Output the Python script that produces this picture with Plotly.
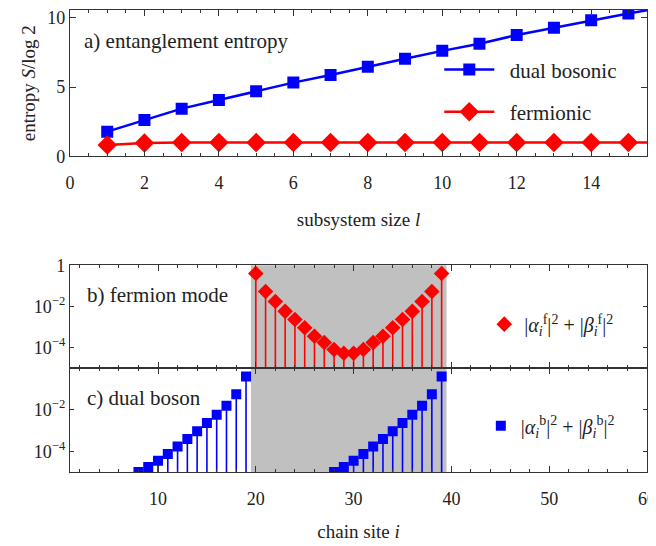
import plotly.graph_objects as go

# ---- data ----
subsystem_l = [1, 2, 3, 4, 5, 6, 7, 8, 9, 10, 11, 12, 13, 14, 15, 16]
entropy_bosonic = [1.79, 2.64, 3.45, 4.07, 4.71, 5.33, 5.88, 6.48, 7.05, 7.62, 8.14, 8.76, 9.29, 9.83, 10.31, 10.8]
entropy_fermionic = [0.83, 0.98, 1.0, 1.0, 1.0, 1.0, 1.0, 1.0, 1.0, 1.0, 1.0, 1.0, 1.0, 1.0, 1.0, 1.0]

fermion_sites = list(range(20, 40))
fermion_weight = [0.398, 0.0525, 0.0174, 0.00575, 0.00229, 0.000912, 0.000355, 0.000174, 8.1e-5, 5.25e-5,
                  5.25e-5, 8.1e-5, 0.000174, 0.000355, 0.000912, 0.00229, 0.00575, 0.0174, 0.0525, 0.398]

boson_sites = list(range(8, 20)) + list(range(28, 40))
boson_weight = [1.0e-5, 1.74e-5, 3.47e-5, 7.4e-5, 1.7e-4, 3.9e-4, 9.1e-4, 2.29e-3, 5.75e-3, 1.55e-2, 5.6e-2, 0.40,
                1.0e-5, 1.74e-5, 3.47e-5, 7.4e-5, 1.7e-4, 3.9e-4, 9.1e-4, 2.29e-3, 5.75e-3, 1.55e-2, 5.6e-2, 0.40]

shade_lo, shade_hi = 19.5, 39.5

FONT = "Liberation Serif, DejaVu Serif, serif"
AX = "#333333"
BLUE = "#0000ff"
RED = "#ff0000"
GRAY = "#c0c0c0"


def stems(xs, ys, base=1e-7):
    sx, sy = [], []
    for x, y in zip(xs, ys):
        sx += [x, x, None]
        sy += [base, y, None]
    return sx, sy


fig = go.Figure()

fig.add_trace(go.Scatter(x=subsystem_l, y=entropy_bosonic, mode="lines+markers", name="  dual bosonic",
                         line=dict(color=BLUE, width=2.5), marker=dict(symbol="square", size=12, color=BLUE),
                         xaxis="x", yaxis="y", legend="legend", legendgroup="a1"))
fig.add_trace(go.Scatter(x=subsystem_l, y=entropy_fermionic, mode="lines+markers", name="  fermionic",
                         line=dict(color=RED, width=2.5), marker=dict(symbol="diamond", size=15, color=RED),
                         xaxis="x", yaxis="y", legend="legend", legendgroup="a2"))

sx, sy = stems(fermion_sites, fermion_weight)
fig.add_trace(go.Scatter(x=sx, y=sy, mode="lines", line=dict(color=RED, width=1.6), showlegend=False,
                         xaxis="x2", yaxis="y2", hoverinfo="skip"))
fig.add_trace(go.Scatter(x=fermion_sites, y=fermion_weight, mode="markers",
                         name="|<i>α</i><sub><i>i</i></sub><sup>f</sup>|<sup>2</sup> + |<i>β</i><sub><i>i</i></sub><sup>f</sup>|<sup>2</sup>",
                         marker=dict(symbol="diamond", size=12, color=RED),
                         xaxis="x2", yaxis="y2", legend="legend2"))

sx, sy = stems(boson_sites, boson_weight)
fig.add_trace(go.Scatter(x=sx, y=sy, mode="lines", line=dict(color=BLUE, width=1.6), showlegend=False,
                         xaxis="x3", yaxis="y3", hoverinfo="skip"))
fig.add_trace(go.Scatter(x=boson_sites, y=boson_weight, mode="markers",
                         name="|<i>α</i><sub><i>i</i></sub><sup>b</sup>|<sup>2</sup> + |<i>β</i><sub><i>i</i></sub><sup>b</sup>|<sup>2</sup>",
                         marker=dict(symbol="square", size=10, color=BLUE),
                         xaxis="x3", yaxis="y3", legend="legend3"))

common = dict(showline=True, linecolor=AX, linewidth=1.3, mirror="ticks", ticks="inside",
              tickcolor=AX, tickwidth=1.2, showgrid=False, zeroline=False, automargin=False,
              ticklabeloverflow="allow",
              tickfont=dict(family=FONT, size=18, color="#222"))

fig.update_layout(
    width=656, height=546,
    margin=dict(l=62, r=17, t=2, b=82),
    paper_bgcolor="white", plot_bgcolor="white",
    font=dict(family=FONT, size=18, color="#222"),
    xaxis=dict(domain=[0, 1], range=[0, 15.5], anchor="y", dtick=2, ticklen=6,
               minor=dict(dtick=0.5, ticklen=3, ticks="inside", tickcolor=AX),
               ticklabelstandoff=10,
               title=dict(text="subsystem size <i>l</i>", font=dict(family=FONT, size=19), standoff=20),
               **common),
    yaxis=dict(domain=[0.683, 1], range=[0, 10.57], anchor="x", tickvals=[0, 5, 10], ticklen=6,
               title=dict(text="entropy <i>S</i>/log 2", font=dict(family=FONT, size=19), standoff=6),
               **common),
    xaxis2=dict(domain=[0, 1], range=[1, 60], anchor="y2", matches="x3", dtick=10, ticklen=6,
                showticklabels=False,
                minor=dict(dtick=2, ticklen=3, ticks="inside", tickcolor=AX), **common),
    yaxis2=dict(domain=[0.2248, 0.4476], type="log", range=[-5, 0], anchor="x2",
                tickvals=[1, 1e-2, 1e-4], ticktext=["1", "10<sup>−2</sup>", "10<sup>−4</sup>"], ticklen=4,
                **common),
    xaxis3=dict(domain=[0, 1], range=[1, 60], anchor="y3", tickvals=[10, 20, 30, 40, 50, 60], ticklen=6,
                minor=dict(dtick=2, ticklen=3, ticks="inside", tickcolor=AX),
                ticklabelstandoff=10,
                title=dict(text="chain site <i>i</i>", font=dict(family=FONT, size=19), standoff=16),
                **common),
    yaxis3=dict(domain=[0, 0.2248], type="log", range=[-5, 0], anchor="x3",
                tickvals=[1e-2, 1e-4], ticktext=["10<sup>−2</sup>", "10<sup>−4</sup>"], ticklen=4,
                **common),
    legend=dict(x=0.64, y=0.915, xanchor="left", yanchor="top", bgcolor="rgba(0,0,0,0)",
                itemwidth=50, tracegroupgap=12, traceorder="grouped",
                font=dict(family=FONT, size=21)),
    legend2=dict(x=0.718, y=0.32, xanchor="left", yanchor="middle", bgcolor="rgba(0,0,0,0)",
                 font=dict(family=FONT, size=20)),
    legend3=dict(x=0.712, y=0.10, xanchor="left", yanchor="middle", bgcolor="rgba(0,0,0,0)",
                 font=dict(family=FONT, size=20)),
    shapes=[
        dict(type="rect", xref="x2", yref="y2 domain", x0=shade_lo, x1=shade_hi, y0=0, y1=1,
             fillcolor=GRAY, line=dict(width=0), layer="below"),
        dict(type="rect", xref="x3", yref="y3 domain", x0=shade_lo, x1=shade_hi, y0=0, y1=1,
             fillcolor=GRAY, line=dict(width=0), layer="below"),
    ],
    annotations=[
        dict(text="a) entanglement entropy", xref="x domain", yref="y domain", x=0.02, y=0.79,
             xanchor="left", yanchor="middle", showarrow=False, font=dict(family=FONT, size=21)),
        dict(text="b) fermion mode", xref="x2 domain", yref="y2 domain", x=0.026, y=0.71,
             xanchor="left", yanchor="middle", showarrow=False, font=dict(family=FONT, size=21)),
        dict(text="c) dual boson", xref="x3 domain", yref="y3 domain", x=0.026, y=0.71,
             xanchor="left", yanchor="middle", showarrow=False, font=dict(family=FONT, size=21)),
    ],
)

fig.write_html("out.html")
